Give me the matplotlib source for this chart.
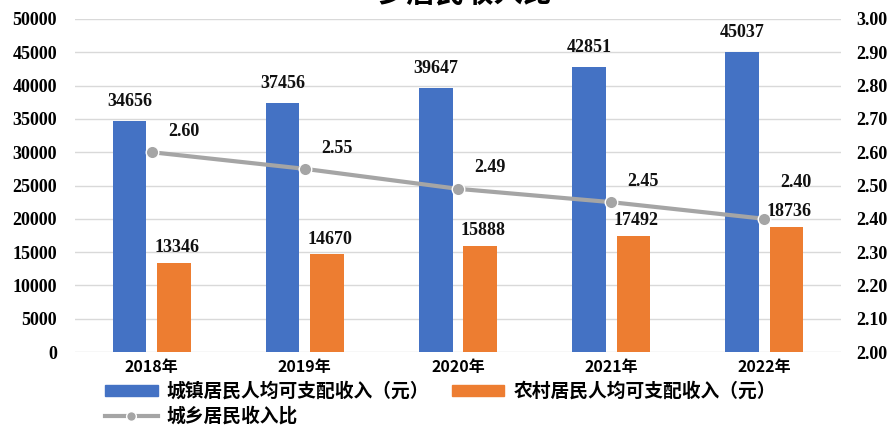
import numpy as np
import matplotlib
matplotlib.use("Agg")
import matplotlib.pyplot as plt
from matplotlib.lines import Line2D
from matplotlib.patches import Patch

# data
years = ["2018年", "2019年", "2020年", "2021年", "2022年"]
urban_income = [34656, 37456, 39647, 42851, 45037]
rural_income = [13346, 14670, 15888, 17492, 18736]
income_ratio = [2.60, 2.55, 2.49, 2.45, 2.40]

urban_name = "城镇居民人均可支配收入（元）"
rural_name = "农村居民人均可支配收入（元）"
ratio_name = "城乡居民收入比"

plt.rcParams['font.family'] = ['Noto Sans CJK SC', 'DejaVu Sans']
num_font = ['Liberation Serif', 'DejaVu Serif']

blue = '#4472C4'
orange = '#ED7D31'
gray = '#A5A5A5'

fig = plt.figure(figsize=(8.92, 4.26), dpi=100)
ax = fig.add_axes([0.0841, 0.1737, 0.8587, 0.7817])

x = np.arange(len(years))
w = 0.22
off = 0.145

ax.bar(x - off, urban_income, width=w, color=blue, zorder=2)
ax.bar(x + off, rural_income, width=w, color=orange, zorder=2)

for i in range(len(years)):
    ax.annotate(str(urban_income[i]), (x[i] - off, urban_income[i]), xytext=(0, 14),
                textcoords='offset points', ha='center', va='center',
                fontsize=13, fontweight='bold', family=num_font, color='#111111')
    ax.annotate(str(rural_income[i]), (x[i] + off, rural_income[i]), xytext=(2, 11),
                textcoords='offset points', ha='center', va='center',
                fontsize=13, fontweight='bold', family=num_font, color='#111111')

ax.set_xlim(-0.5, len(years) - 0.5)
ax.set_ylim(0, 50000)
ax.set_yticks(np.arange(0, 50001, 5000))
ax.set_xticks(x)
ax.set_xticklabels(years, fontsize=11.5, fontweight='bold')
for lab in ax.get_yticklabels():
    lab.set_family(num_font)
    lab.set_fontweight('bold')
    lab.set_fontsize(13)
ax.tick_params(axis='y', length=0, pad=13)
ax.tick_params(axis='x', length=0, pad=5)
ax.grid(axis='y', color='#D9D9D9', lw=1, zorder=0)
for s in ax.spines.values():
    s.set_visible(False)

# ratio on the right axis
ax2 = ax.twinx()
ax2.plot(x, income_ratio, color=gray, lw=3, marker='o', ms=9,
         markerfacecolor=gray, markeredgecolor='white', markeredgewidth=1, zorder=3)
ax2.set_ylim(2.0, 3.0)
ax2.set_yticks(np.arange(2.0, 3.001, 0.1))
ax2.set_yticklabels(["%.2f" % v for v in np.arange(2.0, 3.001, 0.1)])
for lab in ax2.get_yticklabels():
    lab.set_family(num_font)
    lab.set_fontweight('bold')
    lab.set_fontsize(13)
ax2.tick_params(axis='y', length=0, pad=11)
for s in ax2.spines.values():
    s.set_visible(False)

for i, r in enumerate(income_ratio):
    dy = 26 if i == len(income_ratio) - 1 else 15
    ax2.annotate("%.2f" % r, (x[i], r), xytext=(23, dy), textcoords='offset points',
                 ha='center', va='center', fontsize=13, fontweight='bold',
                 family=num_font, color='#111111')

# title, cut off at the top like the original
fig.text(0.521, 1 - 8 / 426, "乡居民收入比", ha='center', va='bottom',
         fontsize=21, fontweight='bold')

handles = [Patch(color=blue), Line2D([], [], color=gray, lw=3, marker='o', ms=7,
                                      markerfacecolor=gray, markeredgecolor='white'),
           Patch(color=orange)]
labels = [urban_name, ratio_name, rural_name]
fig.legend(handles, labels, ncol=2, loc='lower left', bbox_to_anchor=(0.103, -0.03),
           frameon=False, prop={'size': 13.5, 'weight': 'bold'},
           handlelength=2.8, handleheight=0.55, handletextpad=0.5,
           columnspacing=1.2, labelspacing=0.3, borderpad=0.2)

fig.savefig("out.png", dpi=100, facecolor='white')
